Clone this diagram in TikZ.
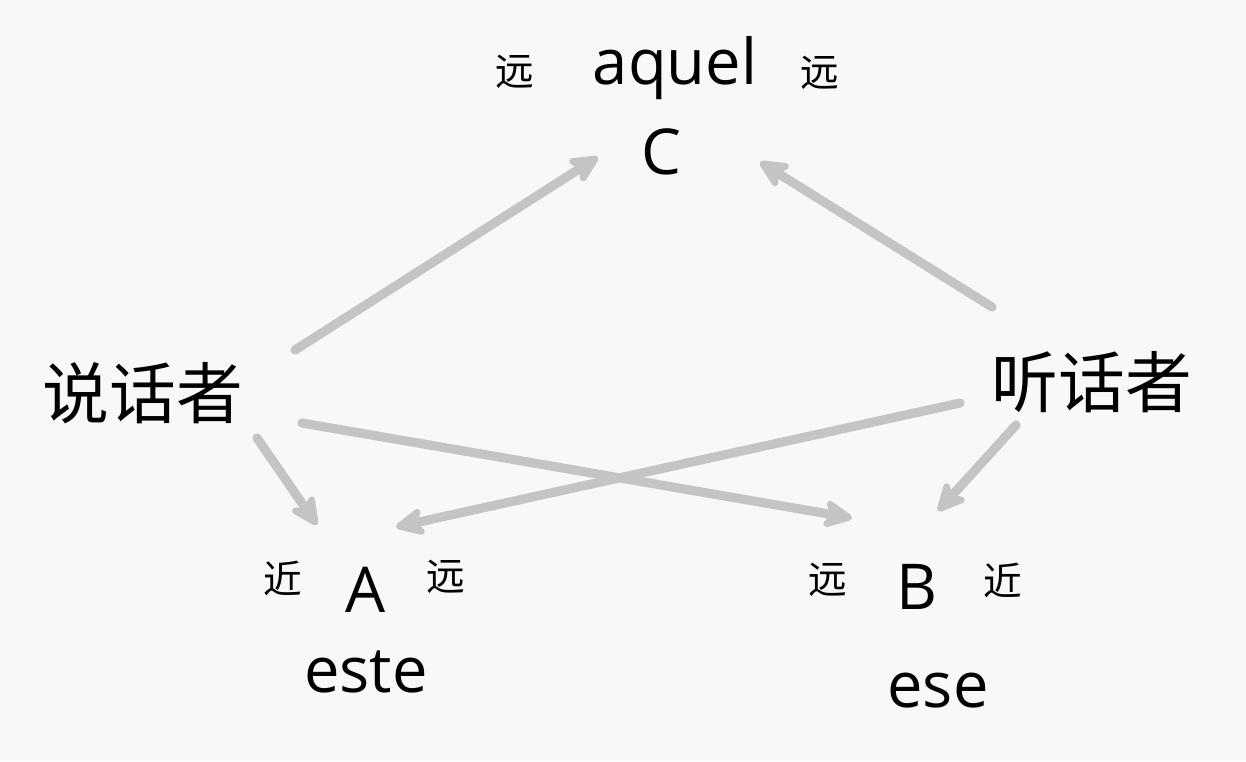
\documentclass[tikz,border=0pt]{standalone}
\usepackage{fontspec}
\setmainfont{Open Sans}
\newfontfamily\cjk{Noto Sans CJK SC}
\usetikzlibrary{arrows.meta}
\definecolor{bg}{HTML}{F8F8F8}
\definecolor{arr}{HTML}{C4C4C4}
\tikzset{
  lat/.style={font=\fontsize{36}{40}\selectfont, inner sep=0pt},
  big/.style={font=\cjk\fontsize{38}{42}\selectfont, inner sep=0pt},
  small/.style={font=\cjk\fontsize{22}{26}\selectfont, inner sep=0pt},
  conn/.style={draw=arr, line width=5.2pt, line cap=round,
    -{Stealth[length=0.72cm,width=0.68cm,inset=0.2cm,round]}}
}
\begin{document}
\begin{tikzpicture}[x=0.02cm,y=-0.02cm]
\fill[bg] (0,0) rectangle (1246,761);
\useasboundingbox (0,0) rectangle (1246,761);
% nodes
\node[lat] (aquel) at (675,68) {aquel};
\node[lat] (C) at (661,152) {C};
\node[small] (cl) at (515,72) {远};
\node[small] (cr) at (820,73) {远};
\node[big] (speaker) at (143,393) {说话者};
\node[big] (listener) at (1092,382) {听话者};
\node[lat] (A) at (366,590) {A};
\node[small] (al) at (283,578) {近};
\node[small] (ar) at (446,577) {远};
\node[lat] (este) at (366,672) {este};
\node[lat] (B) at (917,587) {B};
\node[small] (bl) at (828,580) {远};
\node[small] (br) at (1003,580) {近};
\node[lat] (ese) at (938,691) {ese};
% connector end points
\coordinate (s1) at (295,350);
\coordinate (c1) at (598,157);
\coordinate (l1) at (992,307);
\coordinate (c2) at (760,162);
\coordinate (s2) at (257,438);
\coordinate (a1) at (317,525);
\coordinate (s3) at (302,423);
\coordinate (b1) at (852,518);
\coordinate (l2) at (960,403);
\coordinate (a2) at (396,527);
\coordinate (l3) at (1016,425);
\coordinate (b2) at (938,511);
% connectors
\draw[conn] (s1) -- (c1);
\draw[conn] (l1) -- (c2);
\draw[conn] (s2) -- (a1);
\draw[conn] (s3) -- (b1);
\draw[conn] (l2) -- (a2);
\draw[conn] (l3) -- (b2);
\end{tikzpicture}
\end{document}
